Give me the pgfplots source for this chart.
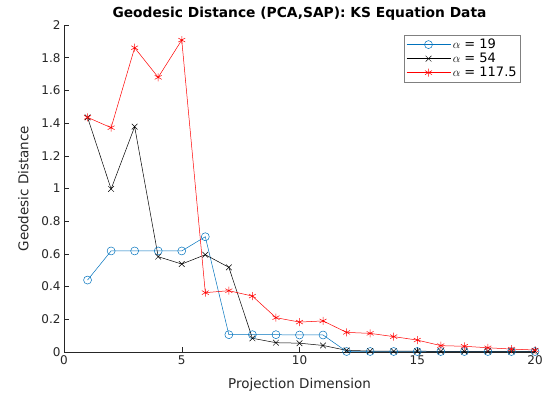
\documentclass[border=0pt]{standalone}
\usepackage{pgfplots}
\pgfplotsset{compat=1.18}
\usepackage{fontspec}
\setmainfont{DejaVu Sans}
\definecolor{mblue}{rgb}{0,0.447,0.741}
\definecolor{axgray}{rgb}{0.15,0.15,0.15}
\begin{document}
\begin{tikzpicture}
\begin{axis}[
  scale only axis, width=471pt, height=327pt,
  xmin=0, xmax=20, ymin=0, ymax=2,
  axis x line*=bottom, axis y line*=left,
  clip=false,
  xtick={0,5,10,15,20}, ytick={0,0.2,...,2.0},
  yticklabels={0,0.2,0.4,0.6,0.8,1,1.2,1.4,1.6,1.8,2},
  tick align=inside, axis line style={axgray}, tick style={axgray, line width=0.5pt},
  major tick length=5pt,
  ticklabel style={font=\fontsize{12}{14}\selectfont, text=axgray},
  /pgf/number format/assume math mode=true,
  xlabel={Projection Dimension}, ylabel={Geodesic Distance},
  label style={font=\fontsize{13.5}{16}\selectfont, text=axgray},
  title={\textbf{Geodesic Distance (PCA,SAP): KS Equation Data}},
  title style={font=\fontsize{13.8}{16}\selectfont, yshift=-5pt},
  xlabel style={yshift=-7pt}, ylabel style={yshift=6pt},
  legend style={at={(0.97,0.97)}, anchor=north east, draw=gray, font=\fontsize{13}{15}\selectfont, row sep=-1pt, inner sep=2pt},
  legend cell align=left,
  legend image code/.code={\draw[mark repeat=2,mark phase=2,#1] plot coordinates {(0pt,0pt)(22pt,0pt)(44pt,0pt)};},
  every axis plot/.append style={line width=0.5pt},
]
\addplot[color=mblue, mark=o, mark size=4pt] coordinates {
(1,0.44)(2,0.618)(3,0.618)(4,0.618)(5,0.618)(6,0.705)(7,0.106)(8,0.106)(9,0.106)(10,0.104)(11,0.104)(12,0.003)(13,0.003)(14,0.003)(15,0.003)(16,0.003)(17,0.003)(18,0.003)(19,0.003)(20,0.003)};
\addlegendentry{$\alpha$ = 19}
\addplot[color=black, mark=x, mark size=4pt] coordinates {
(1,1.435)(2,0.997)(3,1.378)(4,0.583)(5,0.538)(6,0.595)(7,0.518)(8,0.084)(9,0.057)(10,0.054)(11,0.04)(12,0.01)(13,0.006)(14,0.005)(15,0.005)(16,0.004)(17,0.004)(18,0.004)(19,0.004)(20,0.004)};
\addlegendentry{$\alpha$ = 54}
\addplot[color=red, mark=asterisk, mark size=4pt] coordinates {
(1,1.435)(2,1.372)(3,1.861)(4,1.68)(5,1.908)(6,0.363)(7,0.375)(8,0.342)(9,0.21)(10,0.183)(11,0.19)(12,0.12)(13,0.114)(14,0.094)(15,0.073)(16,0.039)(17,0.035)(18,0.026)(19,0.018)(20,0.012)};
\addlegendentry{$\alpha$ = 117.5}
\end{axis}
\pgfresetboundingbox
\path (current axis.south west) ++(-64pt,-50pt) rectangle ([xshift=13pt,yshift=25pt]current axis.north east);
\end{tikzpicture}
\end{document}
